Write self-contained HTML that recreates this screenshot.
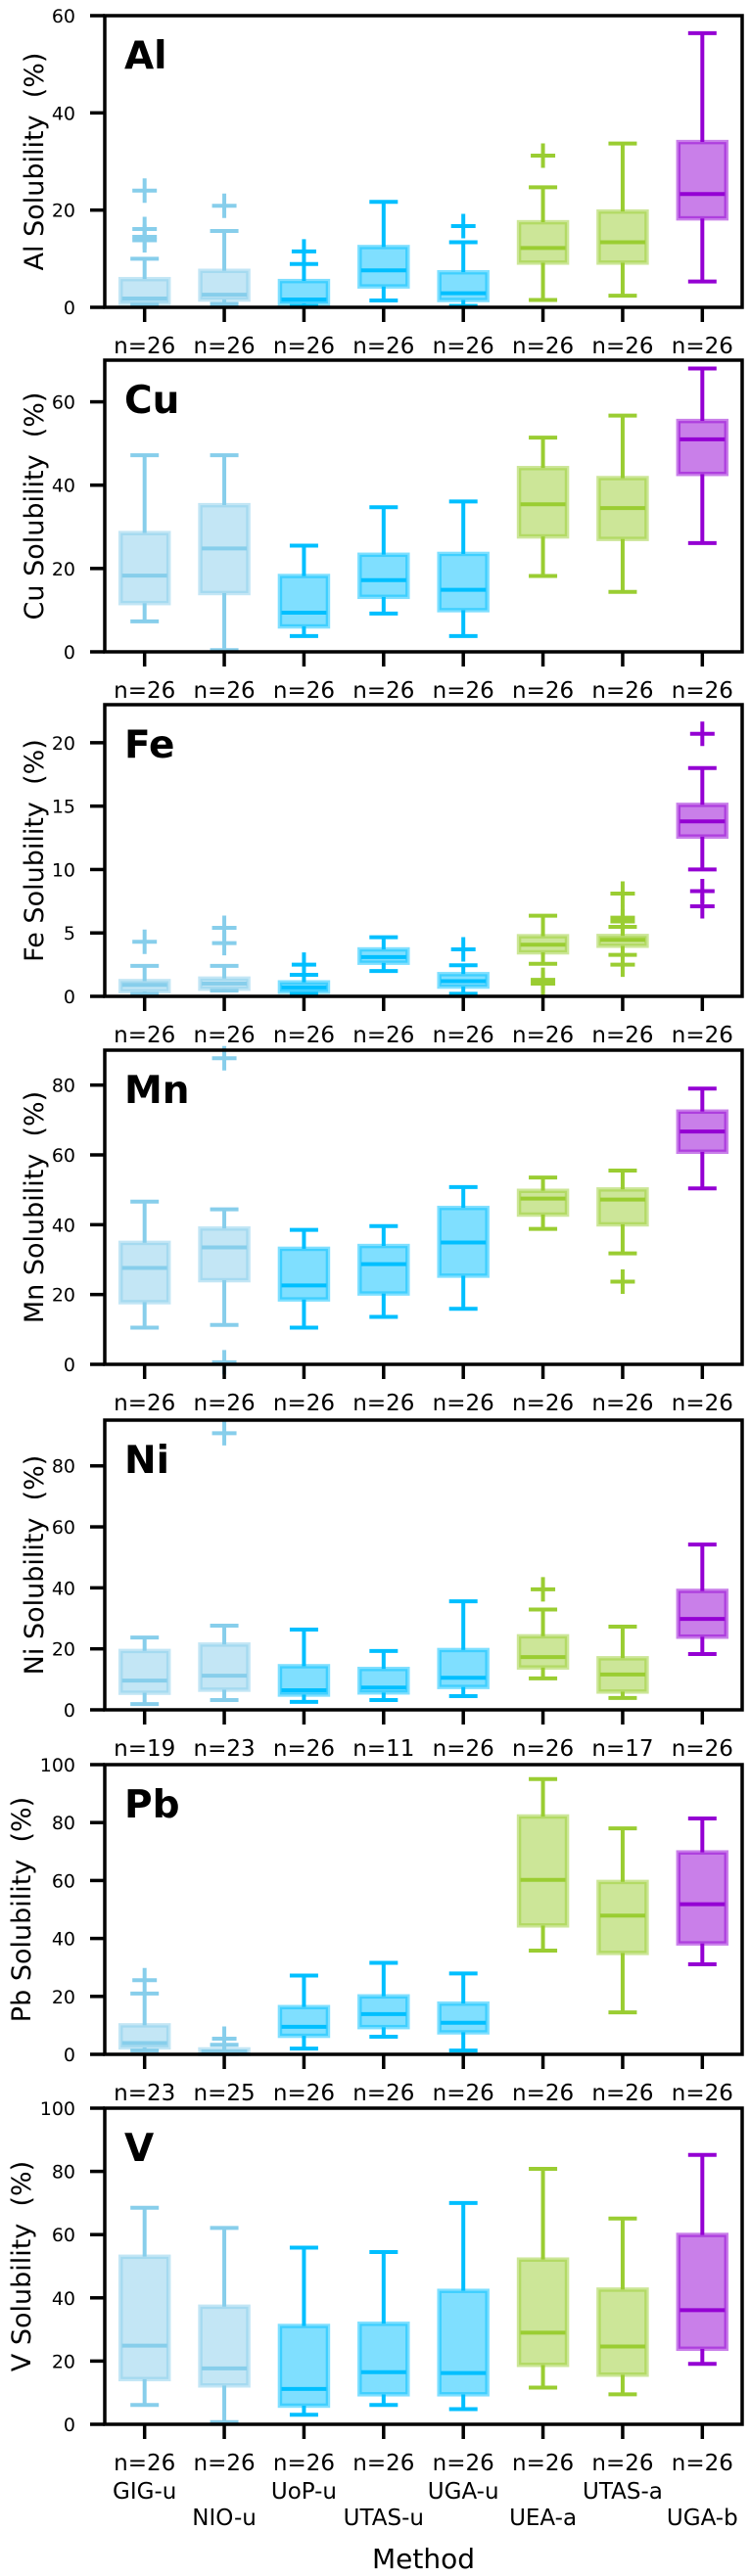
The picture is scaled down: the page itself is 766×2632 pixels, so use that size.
<!DOCTYPE html>
<html><head><meta charset="utf-8"><title>Solubility boxplots</title>
<style>
html,body{margin:0;padding:0;background:#fff;}
svg{display:block;font-family:"DejaVu Sans","Liberation Sans",sans-serif;}
</style></head>
<body>
<svg id="chart" width="766" height="2632" viewBox="0 0 766 2632" xmlns="http://www.w3.org/2000/svg"></svg>
<script>
// ---- data ----
const methods = ["GIG-u","NIO-u","UoP-u","UTAS-u","UGA-u","UEA-a","UTAS-a","UGA-b"];
const elements = ["Al","Cu","Fe","Mn","Ni","Pb","V"];

const alQ1  = [0.9,1.6,0.8,4.3,1.5,9.2,9.2,18.3];
const alMed = [1.8,2.6,1.6,7.6,2.9,12.2,13.4,23.3];
const alQ3  = [5.8,7.5,5.4,12.4,7.2,17.5,19.7,34.0];
const alLo  = [0.5,0.7,0.3,1.4,0.3,1.5,2.4,5.3];
const alHi  = [10.0,15.7,8.9,21.7,13.4,24.7,33.7,56.4];
const alFl  = [[24.0,16.1,14.5,13.8],[20.9],[11.5],[],[16.7],[31.2],[],[]];
const alN   = [26,26,26,26,26,26,26,26];

const cuQ1  = [11.7,14.1,6.1,13.2,10.0,27.7,27.1,42.7];
const cuMed = [18.3,24.8,9.4,17.2,14.9,35.4,34.5,51.0];
const cuQ3  = [28.5,35.2,18.2,23.3,23.5,44.1,41.7,55.4];
const cuLo  = [7.3,0.4,3.8,9.2,3.8,18.2,14.4,26.1];
const cuHi  = [47.2,47.2,25.5,34.7,36.1,51.4,56.7,68.0];
const cuFl  = [[],[],[],[],[],[],[],[]];
const cuN   = [26,26,26,26,26,26,26,26];

const feQ1  = [0.4,0.6,0.36,2.65,0.77,3.47,3.99,12.6];
const feMed = [0.9,1.0,0.7,3.1,1.2,4.07,4.45,13.8];
const feQ3  = [1.2,1.4,1.1,3.7,1.75,4.74,4.76,15.1];
const feLo  = [0.2,0.45,0.2,2.0,0.2,2.57,3.27,10.0];
const feHi  = [2.4,2.4,1.7,4.66,2.45,6.36,5.48,18.0];
const feFl  = [[4.3],[4.2,5.4],[2.5],[],[3.7],[1.3,1.0],[6.2,5.9,8.1,2.5],[20.7,8.3,7.1]];
const feN   = [26,26,26,26,26,26,26,26];

const mnQ1  = [17.8,24.1,18.6,20.3,25.4,42.9,40.1,60.9];
const mnMed = [27.6,33.5,22.6,28.7,34.9,47.5,47.2,66.7];
const mnQ3  = [34.8,38.9,33.1,33.9,44.8,49.7,50.1,72.4];
const mnLo  = [10.5,11.3,10.5,13.6,15.9,38.8,31.8,50.4];
const mnHi  = [46.6,44.4,38.5,39.6,50.8,53.5,55.5,79.0];
const mnFl  = [[],[0.6,87.7],[],[],[],[],[23.7],[]];
const mnN   = [26,26,26,26,26,26,26,26];

const niQ1  = [5.6,6.6,5.0,5.7,7.5,13.9,6.0,24.0];
const niMed = [9.6,11.2,6.4,7.3,10.5,17.3,11.6,29.8];
const niQ3  = [19.3,21.4,14.3,13.4,19.6,24.1,16.9,39.0];
const niLo  = [1.9,3.2,2.6,3.2,4.5,10.3,3.9,18.3];
const niHi  = [23.7,27.6,26.3,19.3,35.6,32.9,27.3,54.2];
const niFl  = [[],[90.7],[],[],[],[39.5],[],[]];
const niN   = [19,23,26,11,26,26,17,26];

const pbQ1  = [2.4,0.1,6.4,9.4,7.6,44.5,35.0,38.3];
const pbMed = [3.9,1.0,9.5,13.9,10.9,60.2,47.9,51.8];
const pbQ3  = [10.0,1.7,16.3,20.0,17.5,82.1,59.5,69.7];
const pbLo  = [1.3,0.1,2.0,6.1,1.3,35.8,14.5,31.1];
const pbHi  = [21.0,3.3,27.2,31.6,27.9,95.0,78.0,81.4];
const pbFl  = [[25.6],[5.4],[],[],[],[],[],[]];
const pbN   = [23,25,26,26,26,26,26,26];

const vQ1   = [14.3,12.3,5.9,9.5,9.5,18.8,15.7,23.9];
const vMed  = [24.9,17.7,11.2,16.5,16.2,29.0,24.6,36.1];
const vQ3   = [53.0,37.2,31.1,31.8,42.2,52.1,42.6,59.9];
const vLo   = [6.1,0.7,3.0,6.1,4.8,11.6,9.5,19.1];
const vHi   = [68.5,62.1,55.9,54.5,70.0,80.8,65.1,85.2];
const vFl   = [[],[],[],[],[],[],[],[]];
const vN    = [26,26,26,26,26,26,26,26];

const yMax   = [60,70,23,90,95,100,100];
const yTicks = [[0,20,40,60],[0,20,40,60],[0,5,10,15,20],[0,20,40,60,80],[0,20,40,60,80],[0,20,40,60,80,100],[0,20,40,60,80,100]];

// ---- layout (not data) ----
const panelTop = [16,368,720,1073,1451,1803,2154];
const panelBot = [314,666,1018,1394,1747,2099,2477];
const X0 = 107, X1 = 758;
const lineCol = ["#87CEEB","#87CEEB","#00BFFF","#00BFFF","#00BFFF","#9ACD32","#9ACD32","#9400D3"];
const NS = "http://www.w3.org/2000/svg";
const svg = document.getElementById("chart");

const panelData = [
  [alQ1,alMed,alQ3,alLo,alHi,alFl,alN],
  [cuQ1,cuMed,cuQ3,cuLo,cuHi,cuFl,cuN],
  [feQ1,feMed,feQ3,feLo,feHi,feFl,feN],
  [mnQ1,mnMed,mnQ3,mnLo,mnHi,mnFl,mnN],
  [niQ1,niMed,niQ3,niLo,niHi,niFl,niN],
  [pbQ1,pbMed,pbQ3,pbLo,pbHi,pbFl,pbN],
  [vQ1,vMed,vQ3,vLo,vHi,vFl,vN]
];

function mk(tag, attrs, parent){
  const e = document.createElementNS(NS, tag);
  for (const k in attrs) e.setAttribute(k, attrs[k]);
  (parent||svg).appendChild(e);
  return e;
}
function xScale(i){ return X0 + (i + 0.5) * (X1 - X0) / methods.length; }

elements.forEach((el, p) => {
  const top = panelTop[p], bot = panelBot[p], ymax = yMax[p];
  const yS = v => bot - v / ymax * (bot - top);
  const [q1,med,q3,lo,hi,fl,nn] = panelData[p];
  const g = mk("g", {});
  
  

  yTicks[p].forEach(t => {
    const y = yS(t);
    const tk = mk("line", {x1:92, x2:X0, y1:y, y2:y, stroke:"#000", "stroke-width":3.5}, g);
    
    
    const tl = mk("text", {x:77, y:y+7, "text-anchor":"end", "font-size":19, fill:"#000"}, g);
    tl.textContent = t;
    
    
  });
  const lx = ymax >= 100 ? 22 : 35;
  const cy = (top+bot)/2;
  const yt = mk("text", {x:lx, y:cy, "text-anchor":"middle", "font-size":27, fill:"#000",
    transform:"rotate(-90 " + lx + " " + cy + ")", dy:"9"}, g);
  yt.textContent = el + " Solubility\u00a0\u00a0(%)";
  
  

  methods.forEach((m, i) => {
    const cx = xScale(i), c = lineCol[i];
    const bg = mk("g", {}, g);
    
    
    mk("line", {x1:cx, x2:cx, y1:yS(q1[i]), y2:yS(lo[i]), stroke:c, "stroke-width":4}, bg);
    mk("line", {x1:cx, x2:cx, y1:yS(q3[i]), y2:yS(hi[i]), stroke:c, "stroke-width":4}, bg);
    mk("line", {x1:cx-14.5, x2:cx+14.5, y1:yS(lo[i]), y2:yS(lo[i]), stroke:c, "stroke-width":4}, bg);
    mk("line", {x1:cx-14.5, x2:cx+14.5, y1:yS(hi[i]), y2:yS(hi[i]), stroke:c, "stroke-width":4}, bg);
    const yq3 = yS(q3[i]), yq1 = yS(q1[i]);
    mk("rect", {x:cx-24.5, y:yq3, width:49, height:Math.max(yq1-yq3,0.5), fill:"#fff"}, bg);
    mk("rect", {x:cx-24.5, y:yq3, width:49, height:Math.max(yq1-yq3,0.5), fill:c, "fill-opacity":0.5,
      stroke:c, "stroke-opacity":0.5, "stroke-width":4.5}, bg);
    mk("line", {x1:cx-23, x2:cx+23, y1:yS(med[i]), y2:yS(med[i]), stroke:c, "stroke-width":4}, bg);
    fl[i].forEach(v => {
      const fy = yS(v);
      const f = mk("path", {d:"M"+(cx-12.5)+" "+fy+"H"+(cx+12.5)+"M"+cx+" "+(fy-12.5)+"V"+(fy+12.5), stroke:c, "stroke-width":4, fill:"none"}, bg);
      
      
    });
    const xt = mk("line", {x1:cx, x2:cx, y1:bot, y2:bot+15, stroke:"#000", "stroke-width":3.5}, g);
    
    
    const nl = mk("text", {x:cx, y:bot+47, "text-anchor":"middle", "font-size":23, fill:"#000"}, g);
    nl.textContent = "n=" + nn[i];
    
    
    if (p === elements.length - 1) {
      const ml = mk("text", {x:cx, y:(i % 2 === 0) ? 2553 : 2580, "text-anchor":"middle", "font-size":23, fill:"#000"}, g);
      ml.textContent = m;
      
      
    }
  });

  const fr = mk("rect", {x:X0, y:top, width:X1-X0, height:bot-top, fill:"none", stroke:"#000", "stroke-width":3.5}, g);
  
  
  const pl = mk("text", {x:127, y:top+54, "font-size":39, "font-weight":"bold", fill:"#000"}, g);
  pl.textContent = el;
  
  
});

const xt = mk("text", {x:(X0+X1)/2, y:2624, "text-anchor":"middle", "font-size":28, fill:"#000"});
xt.textContent = "Method";


</script>
</body></html>
